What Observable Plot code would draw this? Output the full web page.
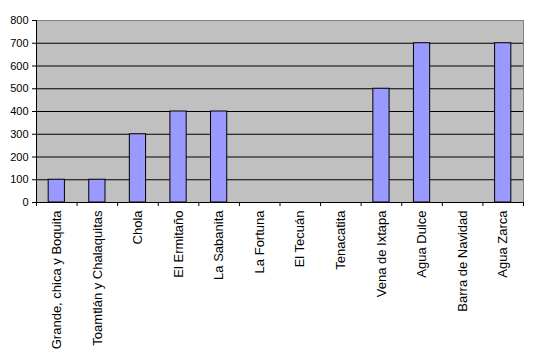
<!DOCTYPE html>
<html>
<head>
<meta charset="utf-8">
<script src="https://cdn.jsdelivr.net/npm/d3@7"></script>
<script src="https://cdn.jsdelivr.net/npm/@observablehq/plot@0.6"></script>
<style>
  html, body { margin: 0; padding: 0; background: #ffffff; }
  #chart { width: 534px; height: 357px; }
</style>
</head>
<body>
<div id="chart"></div>
<script>
const categories = [
  "Grande, chica y Boquita",
  "Toamtlán y Chalaquitas",
  "Chola",
  "El Ermitaño",
  "La Sabanita",
  "La Fortuna",
  "El Tecuán",
  "Tenacatita",
  "Vena de Ixtapa",
  "Agua Dulce",
  "Barra de Navidad",
  "Agua Zarca"
];
const values = [100, 100, 300, 400, 400, 0, 0, 0, 500, 700, 0, 700];
const yTicks = [0, 100, 200, 300, 400, 500, 600, 700, 800];

const data = categories.map((c, i) => ({name: c, value: values[i]}));

const W = 534, H = 357;
const mL = 36, mR = 11, mT = 20, mB = 155;
const step = (W - mL - mR) / categories.length;

const chart = Plot.plot({
  width: W,
  height: H,
  marginLeft: mL,
  marginRight: mR,
  marginTop: mT,
  marginBottom: mB,
  style: {fontFamily: "'Liberation Sans', Arial, sans-serif", color: "black", background: "white"},
  x: {domain: categories, paddingInner: 0.6, paddingOuter: 0.3, round: false, label: null},
  y: {domain: [0, 800], label: null},
  marks: [
    Plot.frame({fill: "#c0c0c0", stroke: "#808080"}),
    Plot.ruleY(yTicks.filter(t => t > 0 && t < 800), {stroke: "black", strokeWidth: 1}),
    Plot.barY(data.filter(d => d.value > 0), {x: "name", y: "value", fill: "#9999ff", stroke: "black", strokeWidth: 1}),
    Plot.frame({anchor: "left", stroke: "black"}),
    Plot.frame({anchor: "bottom", stroke: "black"}),
    Plot.axisY({ticks: yTicks, tickSize: 4, tickPadding: 4, fontSize: 11, label: null}),
    Plot.axisX({ticks: categories, tickSize: 4, tickFormat: () => "", dx: -step / 2, label: null}),
    Plot.axisX({ticks: [categories[categories.length - 1]], tickSize: 4, tickFormat: () => "", dx: step / 2, label: null}),
    Plot.axisX({ticks: categories, tickSize: 0, tickPadding: 8, tickRotate: -90, fontSize: 13, label: null})
  ]
});
document.getElementById("chart").appendChild(chart);
</script>
</body>
</html>
